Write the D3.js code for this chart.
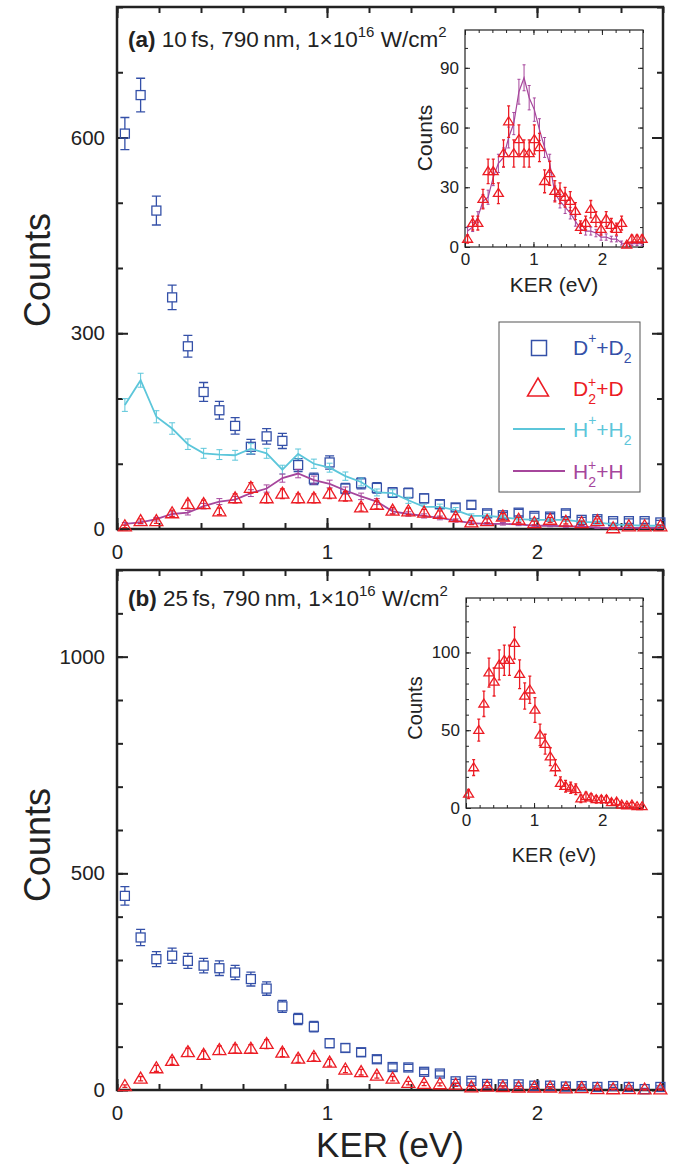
<!DOCTYPE html>
<html>
<head>
<meta charset="utf-8">
<script src="https://cdnjs.cloudflare.com/ajax/libs/d3/7.8.5/d3.min.js"></script>
<style>
body { margin: 0; background: #fff; }
svg { display: block; font-family: "Liberation Sans", Arial, Helvetica, sans-serif; }
</style>
</head>
<body>
<div id="chart"></div>
<script>
// KER bin centres (eV)
const kerBins = [0.0375, 0.1125, 0.1875, 0.2625, 0.3375, 0.4125, 0.4875, 0.5625, 0.6375, 0.7125,
    0.7875, 0.8625, 0.9375, 1.0125, 1.0875, 1.1625, 1.2375, 1.3125, 1.3875, 1.4625,
    1.5375, 1.6125, 1.6875, 1.7625, 1.8375, 1.9125, 1.9875, 2.0625, 2.1375, 2.2125,
    2.2875, 2.3625, 2.4375, 2.5125, 2.5875];

// (a) 10 fs
const a_DplusD2 = [606, 665, 488, 355, 280, 210, 182, 158, 126, 142, 135, 98, 77, 102, 62, 70, 63, 56,
    55, 47, 38, 33, 37, 24, 21, 25, 20, 19, 24, 14, 15, 12, 12, 12, 10];
const a_D2plusD = [4, 12, 12, 24, 38, 38, 27, 47, 63, 47, 54, 47, 47, 54, 50, 33, 37, 28,
    27, 25, 23, 18, 10, 12, 19, 14, 9, 14, 11, 9, 12, 1, 4, 4, 4];
const a_HplusH2 = [190, 228, 172, 154, 130, 116, 114, 113, 123, 116, 91, 115, 100, 94, 81, 72, 56, 55,
    44, 34, 34, 29, 20, 20, 18, 15, 14, 14, 14, 11, 10, 7, 6, 5, 5];
const a_H2plusH = [8, 10, 15, 23, 25, 35, 42, 45, 55, 62, 78, 85, 75, 69, 59, 50, 42, 27,
    23, 20, 17, 13, 9, 8, 8, 7, 5, 5, 4, 4, 2, 1.5, 1.7, 1.7, 1.7];

// (b) 25 fs
const b_DplusD2 = [448, 352, 302, 310, 298, 287, 281, 271, 256, 234, 193, 164, 146, 108, 97, 87, 71, 53,
    52, 42, 38, 20, 21, 14, 13, 13, 10, 10, 8, 9, 7, 9, 7, 2, 7];
const b_D2plusD = [9, 26, 50, 67, 87, 81, 92, 95, 95, 106, 86, 72, 76, 63, 47, 41, 33, 26,
    16, 14, 13, 12, 6, 7.5, 6.7, 5.5, 5.5, 5.5, 3.6, 4, 2, 1.5, 2, 1, 1];

const xMajor = [0, 1, 2];

const blue = "#3450a8", red = "#ec1c24", cyan = "#5cc6da", magenta = "#a6469c", ink = "#222";

const svg = d3.select("#chart").append("svg").attr("width", 674).attr("height", 1167);

const xA = d3.scaleLinear().domain([0, 2.6]).range([117, 663]);
const yA = d3.scaleLinear().domain([0, 800]).range([529, 7]);
const yB = d3.scaleLinear().domain([0, 1200]).range([1090, 570]);
const xIa = d3.scaleLinear().domain([0, 2.6]).range([465, 643]);
const yIa = d3.scaleLinear().domain([0, 109]).range([247, 30]);
const xIb = d3.scaleLinear().domain([0, 2.6]).range([466, 643]);
const yIb = d3.scaleLinear().domain([0, 135]).range([808, 598]);

const xMinor = d3.range(0, 14).map(i => i * 0.2);

function frame(x, y, o) {
    const g = svg.append("g");
    const [left, right] = x.range();
    const [bottom, top] = y.range();
    const sides = [
        { axis: d3.axisBottom, scale: x, at: `translate(0,${bottom})`, labels: true, major: xMajor, minor: xMinor, pad: o.xPad },
        { axis: d3.axisTop, scale: x, at: `translate(0,${top})`, major: xMajor, minor: xMinor },
        { axis: d3.axisLeft, scale: y, at: `translate(${left},0)`, labels: true, major: o.yMajor, minor: o.yMinor, pad: o.yPad },
        { axis: d3.axisRight, scale: y, at: `translate(${right},0)`, major: o.yMajor, minor: o.yMinor }
    ];
    if (o.fill) {
        g.append("rect").attr("x", left).attr("y", top).attr("width", right - left).attr("height", bottom - top)
            .attr("fill", "#fff");
    }
    sides.forEach(s => {
        const mn = g.append("g").attr("transform", s.at)
            .call(s.axis(s.scale).tickValues(s.minor).tickSize(-o.minorLen).tickFormat(""));
        mn.select(".domain").remove();
        mn.selectAll("text").remove();
        mn.selectAll("line").attr("stroke", ink).attr("stroke-width", o.tickW);

        const mj = g.append("g").attr("transform", s.at)
            .call(s.axis(s.scale).tickValues(s.major).tickSize(-o.majorLen).tickPadding(s.pad || 0)
                .tickFormat(s.labels ? d3.format("d") : ""));
        mj.attr("font-family", null).attr("font-size", o.fontSize);
        mj.select(".domain").remove();
        mj.selectAll("line").attr("stroke", ink).attr("stroke-width", o.tickW);
        mj.selectAll("text").attr("fill", ink);
        if (!s.labels) mj.selectAll("text").remove();
    });
    g.append("rect").attr("x", left).attr("y", top).attr("width", right - left).attr("height", bottom - top)
        .attr("fill", "none").attr("stroke", ink).attr("stroke-width", o.frameW);
}

function squares(x, y, vals, color, size, cap) {
    const h = size / 2;
    const pts = kerBins.map((k, i) => ({ k, v: vals[i] }));
    const g = svg.append("g").attr("stroke", color).attr("fill", "none").attr("stroke-width", 1.3);
    g.selectAll("path").data(pts).join("path").attr("d", p => {
        const cx = x(p.k), cy = y(p.v), e = Math.sqrt(p.v);
        const hi = y(p.v + e), lo = y(Math.max(0, p.v - e));
        let s = `M${cx - cap / 2},${hi}H${cx + cap / 2}M${cx - cap / 2},${lo}H${cx + cap / 2}`;
        if (cy - h > hi) s += `M${cx},${cy - h}V${hi}`;
        if (lo > cy + h) s += `M${cx},${cy + h}V${lo}`;
        return s;
    });
    g.selectAll("rect").data(pts).join("rect")
        .attr("x", p => x(p.k) - h).attr("y", p => y(p.v) - h)
        .attr("width", size).attr("height", size);
}

function triangles(x, y, vals, color, w, hgt, cap) {
    const pts = kerBins.map((k, i) => ({ k, v: vals[i] }));
    const g = svg.append("g").attr("stroke", color).attr("fill", "none").attr("stroke-width", 1.3);
    g.selectAll("path.err").data(pts).join("path").attr("class", "err").attr("d", p => {
        const cx = x(p.k), e = Math.sqrt(p.v);
        const hi = y(p.v + e), lo = y(Math.max(0, p.v - e));
        return `M${cx},${hi}V${lo}M${cx - cap / 2},${hi}H${cx + cap / 2}M${cx - cap / 2},${lo}H${cx + cap / 2}`;
    });
    g.selectAll("path.mk").data(pts).join("path").attr("class", "mk").attr("d", p => {
        const cx = x(p.k), cy = y(p.v);
        return `M${cx},${cy - hgt * 0.6}L${cx + w / 2},${cy + hgt * 0.4}L${cx - w / 2},${cy + hgt * 0.4}Z`;
    });
}

function curve(x, y, vals, color, width, cap, errK) {
    const pts = kerBins.map((k, i) => ({ k, v: vals[i] }));
    const g = svg.append("g").attr("stroke", color).attr("fill", "none");
    g.selectAll("path.err").data(pts).join("path").attr("class", "err").attr("stroke-width", 1).attr("d", p => {
        const cx = x(p.k), e = Math.sqrt(errK * p.v);
        const hi = y(p.v + e), lo = y(Math.max(0, p.v - e));
        return `M${cx},${hi}V${lo}M${cx - cap / 2},${hi}H${cx + cap / 2}M${cx - cap / 2},${lo}H${cx + cap / 2}`;
    });
    g.append("path").datum(pts).attr("stroke-width", width)
        .attr("d", d3.line().x(p => x(p.k)).y(p => y(p.v)));
}

// ---- panel (a)
frame(xA, yA, { yMajor: [0, 300, 600], yMinor: d3.range(0, 801, 100), majorLen: 11, minorLen: 6,
    tickW: 2, frameW: 2.5, fontSize: 20.5, xPad: 15, yPad: 12 });
squares(xA, yA, a_DplusD2, blue, 9, 9);
curve(xA, yA, a_HplusH2, cyan, 1.8, 6, 0.5);
curve(xA, yA, a_H2plusH, magenta, 1.8, 6, 0.5);
triangles(xA, yA, a_D2plusD, red, 13, 11, 5);

// ---- panel (b)
frame(xA, yB, { yMajor: [0, 500, 1000], yMinor: d3.range(0, 1201, 100), majorLen: 11, minorLen: 6,
    tickW: 2, frameW: 2.5, fontSize: 20.5, xPad: 15, yPad: 12 });
squares(xA, yB, b_DplusD2, blue, 9, 9);
triangles(xA, yB, b_D2plusD, red, 13, 11, 5);

// ---- inset (a)
frame(xIa, yIa, { yMajor: [0, 30, 60, 90], yMinor: d3.range(0, 101, 10), majorLen: 5, minorLen: 3,
    tickW: 1, frameW: 1.2, fontSize: 17, xPad: 6, yPad: 6, fill: true });
curve(xIa, yIa, a_H2plusH, magenta, 1.2, 3, 0.5);
triangles(xIa, yIa, a_D2plusD, red, 10, 8, 3);

// ---- inset (b)
frame(xIb, yIb, { yMajor: [0, 50, 100], yMinor: d3.range(0, 131, 10), majorLen: 5, minorLen: 3,
    tickW: 1, frameW: 1.2, fontSize: 17, xPad: 6, yPad: 6, fill: true });
triangles(xIb, yIb, b_D2plusD, red, 10, 8, 3);

// ---- axis titles
function label(x, y, txt, size, rot) {
    svg.append("text").attr("x", x).attr("y", y).attr("font-size", size).attr("fill", ink)
        .attr("text-anchor", "middle")
        .attr("transform", rot ? `rotate(-90,${x},${y})` : null)
        .text(txt);
}
label(50, 270, "Counts", 36, true);
label(50, 845, "Counts", 36, true);
label(390, 1157, "KER (eV)", 35, false);
label(432, 138, "Counts", 21, true);
label(554, 292, "KER (eV)", 21, false);
label(422, 708, "Counts", 20, true);
label(554, 862, "KER (eV)", 20, false);

// ---- panel titles
function title(y, tag, rest) {
    const t = svg.append("text").attr("x", 128).attr("y", y).attr("font-size", 22.5).attr("fill", ink);
    t.append("tspan").attr("font-weight", "bold").text(tag);
    t.append("tspan").text(rest);
    t.append("tspan").attr("font-size", 15).attr("dy", -10).text("16");
    t.append("tspan").attr("dy", 10).text(" W/cm");
    t.append("tspan").attr("font-size", 15).attr("dy", -10).text("2");
}
title(47, "(a)", " 10\u2009fs, 790\u2009nm, 1\u00d710");
title(606, "(b)", " 25\u2009fs, 790\u2009nm, 1\u00d710");

// ---- legend
const lg = svg.append("g");
lg.append("rect").attr("x", 499).attr("y", 322).attr("width", 141).attr("height", 170)
    .attr("fill", "#fff").attr("stroke", "#555").attr("stroke-width", 1);
lg.append("rect").attr("x", 531.5).attr("y", 340.5).attr("width", 15).attr("height", 15)
    .attr("fill", "none").attr("stroke", blue).attr("stroke-width", 1.5);
lg.append("path").attr("d", "M538,378L548.5,396L527.5,396Z")
    .attr("fill", "none").attr("stroke", red).attr("stroke-width", 1.5);
lg.append("line").attr("x1", 513).attr("x2", 565).attr("y1", 429).attr("y2", 429)
    .attr("stroke", cyan).attr("stroke-width", 1.8);
lg.append("line").attr("x1", 513).attr("x2", 565).attr("y1", 471).attr("y2", 471)
    .attr("stroke", magenta).attr("stroke-width", 1.8);

// legend species text with super/subscripts
function species(y, color, parts) {
    const t = lg.append("text").attr("x", 573).attr("y", y).attr("font-size", 21).attr("fill", color);
    parts.forEach(p => {
        const s = t.append("tspan").text(p.t);
        if (p.fs) s.attr("font-size", p.fs);
        if (p.dy) s.attr("dy", p.dy);
        if (p.dx) s.attr("dx", p.dx);
    });
}
species(355, blue, [{ t: "D" }, { t: "+", fs: 14, dy: -12 }, { t: "+D", dy: 12 }, { t: "2", fs: 14, dy: 8 }]);
species(396, red, [{ t: "D" }, { t: "2", fs: 14, dy: 8 }, { t: "+", fs: 14, dx: -8, dy: -17 }, { t: "+D", dy: 9 }]);
species(437, cyan, [{ t: "H" }, { t: "+", fs: 14, dy: -12 }, { t: "+H", dy: 12 }, { t: "2", fs: 14, dy: 8 }]);
species(479, magenta, [{ t: "H" }, { t: "2", fs: 14, dy: 8 }, { t: "+", fs: 14, dx: -8, dy: -17 }, { t: "+H", dy: 9 }]);
</script>
</body>
</html>
